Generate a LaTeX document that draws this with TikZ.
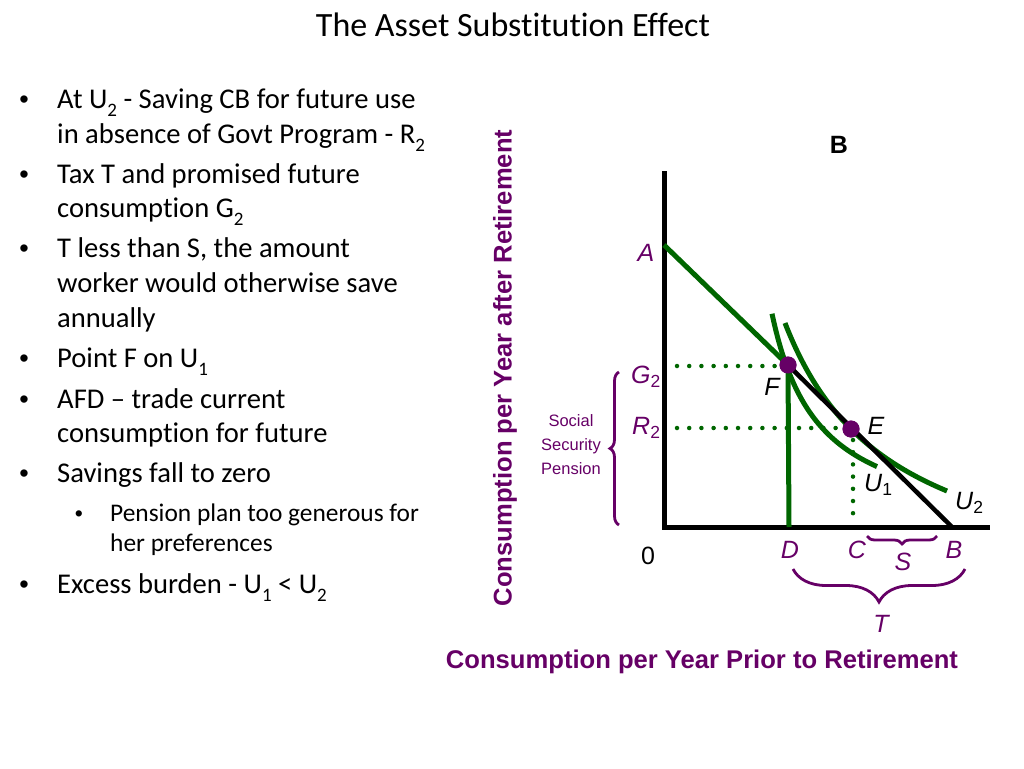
\documentclass[tikz,border=0pt]{standalone}
\usepackage{fontspec}
\setmainfont{Carlito}[Ligatures={NoCommon}]
\newfontfamily\arialf{Liberation Sans}
\usetikzlibrary{decorations.pathreplacing}
\definecolor{pur}{RGB}{102,0,102}
\definecolor{grn}{RGB}{0,102,0}
\newcommand\lsub[1]{\textsubscript{\upshape #1}}
\newcommand\bsub[1]{\raisebox{-0.28em}{\fontsize{19}{20}\selectfont #1}}
\tikzset{
  bodytext/.style={anchor=base west, inner sep=0pt, font=\fontsize{28.6}{35}\selectfont},
  subtext/.style={anchor=base west, inner sep=0pt, font=\fontsize{25.4}{30}\selectfont},
  bulletmark/.style={anchor=base, inner sep=0pt, font=\arialf\fontsize{27}{30}\selectfont},
  sbulletmark/.style={anchor=base, inner sep=0pt, font=\arialf\fontsize{23}{30}\selectfont},
  lab/.style={inner sep=0pt, text=pur, font=\arialf\itshape\fontsize{25}{30}\selectfont},
  blab/.style={inner sep=0pt, text=black, font=\arialf\itshape\fontsize{25}{30}\selectfont},
  axislab/.style={inner sep=0pt, text=pur, font=\arialf\bfseries\fontsize{25.6}{30}\selectfont},
  axis/.style={line width=5pt, black, line join=miter},
  gline/.style={line width=5pt, grn},
  bline/.style={line width=4.5pt, black},
  dotline/.style={grn, line width=4.5pt, line cap=round, dash pattern=on 0pt off 12.2pt},
  ptdot/.style={circle, fill=pur, minimum size=17pt, inner sep=0pt},
  brc/.style={pur, line width=2.8pt, decorate},
}
\begin{document}
\begin{tikzpicture}[x=1pt,y=-1pt]
\useasboundingbox (0,0) rectangle (1024,768);
% title
\node[anchor=base, inner sep=0pt, font=\fontsize{34}{40}\selectfont] (title) at (513,37) {The Asset Substitution Effect};
% bullets
\node[bulletmark] (m1) at (24,108) {•};
\node[bodytext] (t1a) at (57,108) {At U\bsub{2} - Saving CB for future use};
\node[bodytext] (t1b) at (57,143) {in absence of Govt Program - R\bsub{2}};
\node[bulletmark] (m2) at (24,183) {•};
\node[bodytext] (t2a) at (57,183) {Tax T and promised future};
\node[bodytext] (t2b) at (57,217) {consumption G\bsub{2}};
\node[bulletmark] (m3) at (24,257) {•};
\node[bodytext] (t3a) at (57,257) {T less than S, the amount};
\node[bodytext] (t3b) at (57,292) {worker would otherwise save};
\node[bodytext] (t3c) at (57,327) {annually};
\node[bulletmark] (m4) at (24,367) {•};
\node[bodytext] (t4a) at (57,367) {Point F on U\bsub{1}};
\node[bulletmark] (m5) at (24,408) {•};
\node[bodytext] (t5a) at (57,408) {AFD -- trade current};
\node[bodytext] (t5b) at (57,442) {consumption for future};
\node[bulletmark] (m6) at (24,482) {•};
\node[bodytext] (t6a) at (57,482) {Savings fall to zero};
\node[sbulletmark] (m7) at (79,521) {•};
\node[subtext] (t7a) at (110,521) {Pension plan too generous for};
\node[subtext] (t7b) at (110,551) {her preferences};
\node[bulletmark] (m8) at (24,593) {•};
\node[bodytext] (t8a) at (57,593) {Excess burden - U\bsub{1} < U\bsub{2}};

% key coordinates
\coordinate (O) at (664,527);
\coordinate (Ytop) at (664,171);
\coordinate (Xend) at (990,527);
\coordinate (Apt) at (664,245);
\coordinate (Bpt) at (952,527);
\coordinate (Dpt) at (789,527);
\coordinate (Cbot) at (853,525);
\coordinate (Ctop) at (853,440);
\coordinate (G2s) at (677,366);
\coordinate (R2s) at (677,428);

% dotted guides
\draw[dotline] (G2s) -- (786,366);
\draw[dotline] (R2s) -- (850,428);
\draw[dotline] (Ctop) -- (Cbot);

% axes
\draw[axis] (Ytop) -- (O) -- (Xend);

% indifference curves
\draw[gline] plot[domain=772:877, samples=60] (\x, {535-10400/(\x-725)});
\draw[gline] plot[domain=785:947, samples=60] (\x, {604-175*(175/(\x-676))});

% points
\node[ptdot] (F) at (788,365) {};
\node[ptdot] (E) at (851,429) {};

% budget lines
\draw[gline] (Apt) -- (F.center);
\draw[gline] (F.center) -- (Dpt);
\draw[bline] (F.center) -- (Bpt);
\node[ptdot] (F2) at (788,365) {};
\node[ptdot] (E2) at (851,429) {};

% labels
\node[inner sep=0pt, font=\arialf\bfseries\fontsize{25}{30}\selectfont] (Btitle) at (839,145) {B};
\node[lab] (lA) at (646,253) {A};
\node[lab, anchor=west] (lG) at (631,377) {G\lsub{2}};
\node[lab, anchor=west] (lR) at (632,428) {R\lsub{2}};
\node[blab] (lF) at (772,387) {F};
\node[blab] (lE) at (876,426) {E};
\node[blab, anchor=west] (lU1) at (864,485) {U\lsub{1}};
\node[blab, anchor=west] (lU2) at (955,503) {U\lsub{2}};
\node[inner sep=0pt, font=\arialf\fontsize{25}{30}\selectfont] (l0) at (648,556) {0};
\node[lab] (lD) at (790,550) {D};
\node[lab] (lC) at (857,550) {C};
\node[lab] (lB) at (954,550) {B};
\node[lab] (lS) at (903,562) {S};
\node[lab] (lT) at (881,624) {T};
\node[inner sep=0pt, text=pur, align=center, font=\arialf\fontsize{16.5}{24}\selectfont] (ssp) at (571,445) {Social\\Security\\Pension};

% braces
\draw[brc, decoration={brace, amplitude=9pt}] (619,525) -- (619,372);
\draw[brc, decoration={brace, amplitude=8pt}] (937,536) -- (867,536);
\draw[brc, decoration={brace, amplitude=33pt}] (965,569) -- (793,569);

% axis titles
\node[axislab, rotate=90] (ylab) at (505,368) {Consumption per Year after Retirement};
\node[axislab] (xlab) at (702,662) {Consumption per Year Prior to Retirement};
\end{tikzpicture}
\end{document}
